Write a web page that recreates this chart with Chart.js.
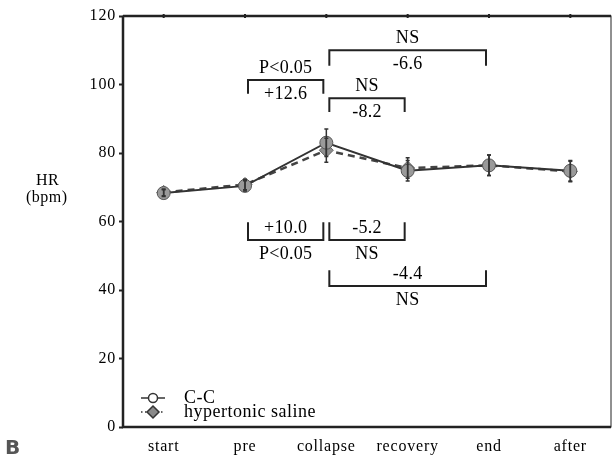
<!DOCTYPE html>
<html>
<head>
<meta charset="utf-8">
<script src="https://cdn.jsdelivr.net/npm/chart.js@4.4.1/dist/chart.umd.min.js"></script>
<style>
  html, body { margin: 0; padding: 0; background: #fff; }
  #wrap { width: 613px; height: 468px; position: relative; }
</style>
</head>
<body>
<div id="wrap"><canvas id="hrChart"></canvas></div>
<script>
// heart rate per phase, two groups
const phases = ['start', 'pre', 'collapse', 'recovery', 'end', 'after'];
const hrCC = [68.3, 70.4, 83.0, 74.8, 76.4, 74.8];
const hrCCErr = [1.0, 1.5, 4.0, 3.0, 3.0, 3.0];
const hrHS = [68.5, 70.8, 80.8, 75.6, 76.4, 74.6];
const hrHSErr = [1.0, 1.5, 3.5, 3.0, 3.0, 3.0];
const yTicks = [0, 20, 40, 60, 80, 100, 120];

// comparison brackets: from/to phase index, bar level, tip level, text above / below
const brackets = [
  { from: 2, to: 4, bar: 110.0, tip: 105.5, above: 'NS', below: '-6.6' },
  { from: 1, to: 2, bar: 101.3, tip: 97.3, above: 'P<0.05', below: '+12.6' },
  { from: 2, to: 3, bar: 96.0, tip: 92.0, above: 'NS', below: '-8.2' },
  { from: 1, to: 2, bar: 54.6, tip: 59.8, above: '+10.0', below: 'P<0.05' },
  { from: 2, to: 3, bar: 54.6, tip: 59.8, above: '-5.2', below: 'NS' },
  { from: 2, to: 4, bar: 41.2, tip: 45.8, above: '-4.4', below: 'NS' }
];

const serif = '"Liberation Serif", "DejaVu Serif", serif';

// the axis labels are set a little wide
const spacing = {
  id: 'spacing',
  beforeDraw(chart) { chart.ctx.letterSpacing = '0.8px'; },
  beforeDatasetsDraw(chart) { chart.ctx.letterSpacing = '0px'; }
};

const errorBars = {
  id: 'errorBars',
  afterDatasetsDraw(chart) {
    const { ctx, scales: { x, y } } = chart;
    const sets = [[hrCC, hrCCErr], [hrHS, hrHSErr]];
    ctx.save();
    ctx.strokeStyle = '#333';
    ctx.lineWidth = 1.5;
    sets.forEach(([vals, errs]) => {
      vals.forEach((v, i) => {
        const px = x.getPixelForValue(i);
        const top = y.getPixelForValue(v + errs[i]);
        const bot = y.getPixelForValue(v - errs[i]);
        ctx.beginPath();
        ctx.moveTo(px, top); ctx.lineTo(px, bot);
        ctx.moveTo(px - 2, top); ctx.lineTo(px + 2, top);
        ctx.moveTo(px - 2, bot); ctx.lineTo(px + 2, bot);
        ctx.stroke();
      });
    });
    ctx.restore();
  }
};

const extras = {
  id: 'extras',
  afterDraw(chart) {
    const { ctx, chartArea: a, scales: { x, y } } = chart;
    ctx.save();

    // frame round the plot
    ctx.strokeStyle = '#222';
    ctx.lineWidth = 1;
    ctx.strokeRect(a.left, a.top, a.right - a.left, a.bottom - a.top);
    ctx.lineWidth = 2.5;
    ctx.beginPath();
    ctx.moveTo(a.left, a.top); ctx.lineTo(a.left, a.bottom); ctx.lineTo(a.right, a.bottom);
    ctx.moveTo(a.left, a.top); ctx.lineTo(a.right, a.top);
    ctx.stroke();
    // small marks on the top edge at each phase
    ctx.lineWidth = 2;
    ctx.beginPath();
    phases.forEach((p, i) => {
      const px = x.getPixelForValue(i);
      ctx.moveTo(px, a.top - 2); ctx.lineTo(px, a.top + 2);
    });
    ctx.stroke();

    // brackets
    ctx.fillStyle = '#000';
    ctx.font = '18px ' + serif;
    ctx.letterSpacing = '0.3px';
    ctx.textAlign = 'center';
    ctx.textBaseline = 'alphabetic';
    ctx.lineWidth = 2;
    brackets.forEach(b => {
      const x1 = x.getPixelForValue(b.from) + 3;
      const x2 = x.getPixelForValue(b.to) - 3;
      const yb = y.getPixelForValue(b.bar);
      const yt = y.getPixelForValue(b.tip);
      ctx.beginPath();
      ctx.moveTo(x1, yt); ctx.lineTo(x1, yb); ctx.lineTo(x2, yb); ctx.lineTo(x2, yt);
      ctx.stroke();
      const cx = (x1 + x2) / 2;
      ctx.fillText(b.above, cx, yb - 7);
      ctx.fillText(b.below, cx, yb + 19);
    });

    // legend in the lower left corner
    ctx.letterSpacing = '0px';
    const lx = a.left + 30, ly1 = a.bottom - 29, ly2 = a.bottom - 15;
    ctx.strokeStyle = '#333';
    ctx.lineWidth = 1.5;
    ctx.beginPath();
    ctx.moveTo(lx - 12, ly1); ctx.lineTo(lx + 12, ly1);
    ctx.stroke();
    ctx.beginPath();
    ctx.arc(lx, ly1, 4.5, 0, Math.PI * 2);
    ctx.fillStyle = '#fff';
    ctx.fill();
    ctx.stroke();
    ctx.setLineDash([1.5, 2.5]);
    ctx.beginPath();
    ctx.moveTo(lx - 12, ly2); ctx.lineTo(lx + 12, ly2);
    ctx.stroke();
    ctx.setLineDash([]);
    ctx.beginPath();
    ctx.moveTo(lx, ly2 - 6); ctx.lineTo(lx + 6, ly2); ctx.lineTo(lx, ly2 + 6); ctx.lineTo(lx - 6, ly2);
    ctx.closePath();
    ctx.fillStyle = '#8a8a8a';
    ctx.fill();
    ctx.stroke();
    ctx.fillStyle = '#000';
    ctx.font = '18px ' + serif;
    ctx.letterSpacing = '0.5px';
    ctx.textAlign = 'left';
    ctx.textBaseline = 'middle';
    ctx.fillText('C-C', lx + 31, ly1);
    ctx.fillText('hypertonic saline', lx + 31, ly2);

    // axis title
    ctx.font = '16px ' + serif;
    ctx.letterSpacing = '0.5px';
    ctx.fillText('HR', 36, 181);
    ctx.fillText('(bpm)', 26, 198);

    // panel letter
    ctx.letterSpacing = '0px';
    ctx.font = 'bold 20px "DejaVu Sans", sans-serif';
    ctx.fillStyle = '#555';
    ctx.fillText('B', 5, 449);
    ctx.restore();
  }
};

new Chart(document.getElementById('hrChart'), {
  type: 'line',
  data: {
    labels: phases,
    datasets: [
      {
        label: 'C-C',
        data: hrCC,
        borderColor: '#333',
        borderWidth: 2,
        pointStyle: 'circle',
        pointRadius: 6.5,
        pointBackgroundColor: '#9a9a9a',
        pointBorderColor: '#555',
        pointBorderWidth: 1,
        tension: 0
      },
      {
        label: 'hypertonic saline',
        data: hrHS,
        borderColor: '#444',
        borderWidth: 2.5,
        borderDash: [7, 5],
        pointStyle: 'rectRot',
        pointRadius: 7,
        pointBackgroundColor: '#8e8e8e',
        pointBorderColor: '#666',
        pointBorderWidth: 1,
        tension: 0
      }
    ]
  },
  options: {
    responsive: true,
    maintainAspectRatio: false,
    animation: false,
    layout: { autoPadding: false, padding: { top: 16, right: 2, left: 0, bottom: 0 } },
    plugins: { legend: { display: false }, tooltip: { enabled: false } },
    scales: {
      x: {
        offset: true,
        grid: { display: false, drawTicks: false },
        border: { display: false },
        ticks: { color: '#000', font: { family: serif, size: 16 }, padding: 10, maxRotation: 0 },
        afterFit(scale) { scale.height = 41; }
      },
      y: {
        min: 0,
        max: 120,
        afterBuildTicks(scale) { scale.ticks = yTicks.map(v => ({ value: v })); },
        grid: { drawOnChartArea: false, tickLength: 4, color: '#222', tickWidth: 2 },
        border: { display: false },
        ticks: { color: '#000', font: { family: serif, size: 16 }, padding: 3 },
        afterFit(scale) { scale.width = 123; }
      }
    }
  },
  plugins: [spacing, errorBars, extras]
});
</script>
</body>
</html>
